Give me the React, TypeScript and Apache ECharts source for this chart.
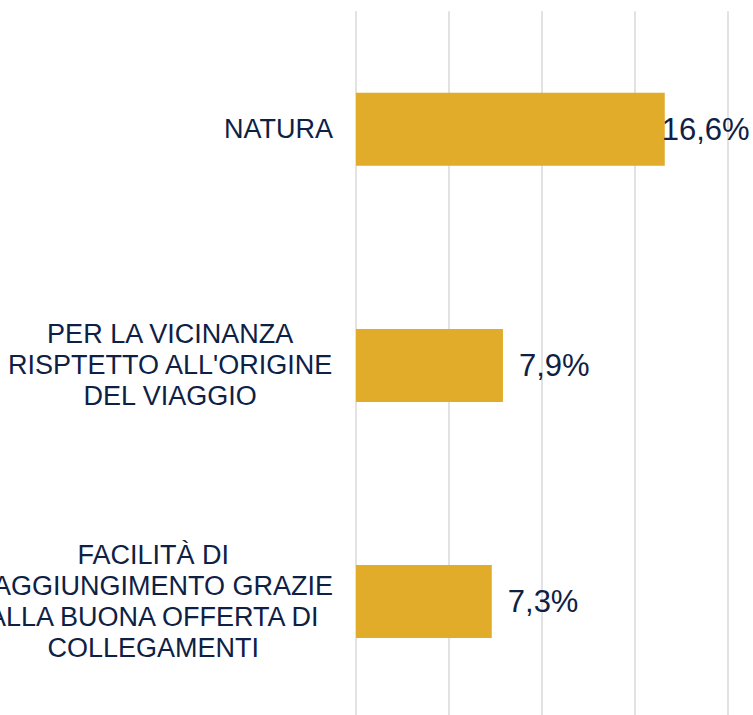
import React, { useEffect, useRef } from "react";
import * as echarts from "echarts";

const categories: string[] = [
  "NATURA",
  "PER LA VICINANZA\nRISPTETTO ALL'ORIGINE\nDEL VIAGGIO",
  "FACILITÀ DI\nRAGGIUNGIMENTO GRAZIE\nALLA BUONA OFFERTA DI\nCOLLEGAMENTI",
];
const values: number[] = [16.6, 7.9, 7.3];
const valueLabels: string[] = ["16,6%", "7,9%", "7,3%"];
const labelDistances: number[] = [-3, 16, 16];
const axisTicks: number[] = [0, 5, 10, 15, 20];

const FONT = "'Liberation Sans', Arial, sans-serif";
const NAVY = "#0E2145";
const GOLD = "#E0AC29";

export default function App() {
  const ref = useRef<HTMLDivElement>(null);
  useEffect(() => {
    if (!ref.current) return;
    const chart = echarts.init(ref.current, undefined, { renderer: "svg" });
    chart.setOption({
      animation: false,
      backgroundColor: "#ffffff",
      grid: {
        left: 356,
        right: 25,
        top: 11.3,
        bottom: -4.6,
        containLabel: false,
        outerBoundsMode: "none",
      },
      xAxis: {
        type: "value",
        min: axisTicks[0],
        max: axisTicks[axisTicks.length - 1],
        interval: axisTicks[1] - axisTicks[0],
        axisLabel: { show: false },
        axisLine: { show: false },
        axisTick: { show: false },
        splitLine: { show: true, lineStyle: { color: "#D9D9D9", width: 1.5 } },
      },
      yAxis: {
        type: "category",
        inverse: true,
        data: categories,
        axisLine: { show: false },
        axisTick: { show: false },
        axisLabel: {
          interval: 0,
          margin: 23,
          formatter: (v: string) =>
            v
              .split("\n")
              .map((l) => "{c|" + l + "}")
              .join("\n"),
          rich: {
            c: {
              align: "center",
              fontSize: 27,
              lineHeight: 31,
              fontFamily: FONT,
              color: NAVY,
            },
          },
        },
      },
      series: [
        {
          type: "bar",
          barWidth: 73,
          itemStyle: { color: GOLD },
          data: values.map((v, i) => ({
            value: v,
            label: {
              show: true,
              position: "right",
              distance: labelDistances[i],
              formatter: valueLabels[i],
              fontSize: 31,
              fontFamily: FONT,
              color: NAVY,
            },
          })),
        },
      ],
    });
    return () => chart.dispose();
  }, []);
  return (
    <div
      ref={ref}
      style={{ position: "fixed", left: 0, top: 0, width: 753, height: 715 }}
    />
  );
}
